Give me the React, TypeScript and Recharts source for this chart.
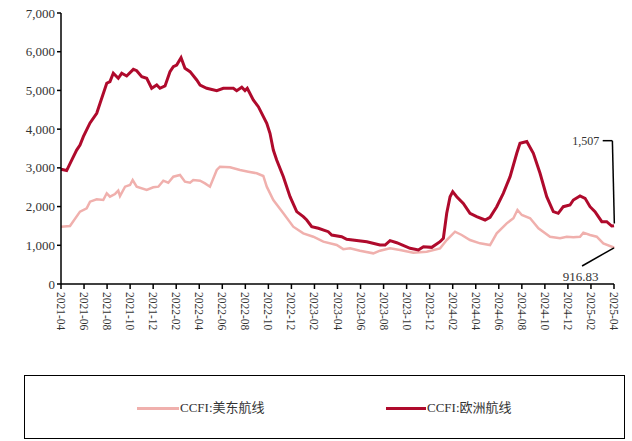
import React from 'react';
import { LineChart, Line, XAxis, YAxis, ReferenceLine, ReferenceDot } from 'recharts';

// x values are months since 2021-04
const usEastT = [0, 0.78, 1.65, 2.23, 2.52, 3.1, 3.67, 3.97, 4.25, 4.69, 4.97, 5.12, 5.56, 5.99, 6.22, 6.57, 7.44, 8.01, 8.45, 8.88, 9.31, 9.75, 10.33, 10.76, 11.2, 11.48, 12.07, 12.5, 12.93, 13.52, 13.8, 14.67, 15.54, 16.26, 16.99, 17.56, 17.86, 18.43, 19.3, 20.16, 21.03, 21.9, 22.77, 23.93, 24.5, 25.09, 25.95, 27.11, 27.69, 28.56, 29.43, 30.58, 31.74, 32.9, 33.48, 34.2, 34.78, 35.5, 36.37, 37.24, 37.82, 38.69, 39.27, 39.62, 40.0, 40.72, 41.44, 42.45, 43.32, 43.9, 44.47, 45.05, 45.34, 45.92, 46.5, 47.07, 47.94, 48];
const usEastV = [1480, 1498, 1869, 1955, 2126, 2187, 2170, 2343, 2255, 2325, 2411, 2273, 2514, 2557, 2686, 2514, 2428, 2497, 2514, 2669, 2617, 2772, 2816, 2643, 2617, 2686, 2669, 2600, 2514, 2945, 3030, 3014, 2945, 2902, 2860, 2790, 2514, 2170, 1826, 1480, 1309, 1222, 1093, 1007, 900, 921, 860, 792, 860, 921, 878, 809, 835, 921, 1136, 1351, 1266, 1136, 1050, 1007, 1309, 1567, 1697, 1912, 1782, 1697, 1439, 1222, 1180, 1222, 1205, 1222, 1326, 1266, 1222, 1050, 947, 916.83];

const europeT = [0, 0.49, 0.93, 1.36, 1.65, 1.94, 2.52, 3.1, 3.39, 3.97, 4.25, 4.54, 4.97, 5.27, 5.7, 6.28, 6.57, 7.01, 7.44, 7.87, 8.31, 8.59, 9.03, 9.46, 9.75, 10.04, 10.42, 10.76, 11.2, 11.78, 12.07, 12.65, 13.52, 14.09, 14.96, 15.25, 15.69, 15.97, 16.17, 16.69, 17.13, 17.86, 18.14, 18.43, 18.72, 19.3, 19.88, 20.46, 21.03, 21.33, 21.76, 22.34, 23.2, 23.5, 24.36, 24.8, 26.54, 27.69, 28.13, 28.56, 29.14, 30.3, 31.02, 31.46, 32.18, 32.9, 33.19, 33.48, 33.77, 34.0, 34.35, 34.92, 35.5, 36.08, 36.81, 37.24, 37.82, 38.39, 38.98, 39.56, 39.84, 40.43, 41.0, 41.58, 42.16, 42.73, 43.16, 43.6, 44.18, 44.47, 45.05, 45.49, 45.92, 46.35, 46.94, 47.37, 47.8, 48];
const europeV = [2963, 2930, 3200, 3460, 3590, 3805, 4160, 4410, 4670, 5185, 5227, 5443, 5314, 5443, 5373, 5545, 5510, 5355, 5314, 5056, 5140, 5056, 5115, 5485, 5614, 5657, 5846, 5572, 5485, 5270, 5140, 5056, 4994, 5056, 5056, 4994, 5081, 4994, 5056, 4753, 4580, 4150, 3893, 3460, 3203, 2772, 2255, 1869, 1739, 1653, 1480, 1439, 1351, 1266, 1222, 1154, 1093, 1007, 1007, 1119, 1067, 921, 878, 964, 947, 1093, 1180, 1826, 2255, 2385, 2255, 2083, 1826, 1739, 1653, 1722, 1997, 2343, 2772, 3376, 3635, 3679, 3376, 2860, 2255, 1869, 1826, 1997, 2041, 2170, 2273, 2213, 1997, 1869, 1610, 1610, 1498, 1507];

const xTicks = [0, 2, 4, 6, 8, 10, 12, 14, 16, 18, 20, 22, 24, 26, 28, 30, 32, 34, 36, 38, 40, 42, 44, 46, 48];
const xTickLabels = ['2021-04', '2021-06', '2021-08', '2021-10', '2021-12', '2022-02', '2022-04', '2022-06', '2022-08', '2022-10', '2022-12', '2023-02', '2023-04', '2023-06', '2023-08', '2023-10', '2023-12', '2024-02', '2024-04', '2024-06', '2024-08', '2024-10', '2024-12', '2025-02', '2025-04'];
const yTicks = [0, 1000, 2000, 3000, 4000, 5000, 6000, 7000];

const seriesNames = ['CCFI:美东航线', 'CCFI:欧洲航线'];
const lastUsEast = '916.83';
const lastEurope = '1,507';

const usEastData = usEastT.map((t, i) => ({ t, v: usEastV[i] }));
const europeData = europeT.map((t, i) => ({ t, v: europeV[i] }));

const PINK = '#F0B0AD';
const RED = '#AF0A2C';
const FONT = '"Liberation Serif", "Noto Sans CJK SC", serif';

const XTick = (props: any) => {
  const { x, y, payload } = props;
  const idx = xTicks.indexOf(payload.value);
  return (
    <text
      transform={`translate(${x - 4},${y + 1}) rotate(90)`}
      textAnchor="start"
      fontSize={11.5}
      fill="#333"
      fontFamily={FONT}
    >
      {xTickLabels[idx]}
    </text>
  );
};

export default function App() {
  return (
    <div style={{ position: 'absolute', left: 0, top: 0, width: 632, height: 441, background: '#fff', fontFamily: FONT }}>
      <LineChart width={632} height={441} margin={{ top: 13, right: 18, bottom: 107, left: 0 }}>
        <XAxis
          type="number"
          dataKey="t"
          domain={[0, 48]}
          ticks={xTicks}
          tick={<XTick />}
          axisLine={{ stroke: '#000', strokeWidth: 1.5 }}
          tickLine={{ stroke: '#000', strokeWidth: 1.5 }}
          tickSize={5}
          height={50}
          interval={0}
        />
        <YAxis
          type="number"
          domain={[0, 7000]}
          ticks={yTicks}
          width={61}
          tickFormatter={(v: number) => v.toLocaleString('en-US')}
          tick={{ fontSize: 13, fill: '#333', fontFamily: FONT }}
          axisLine={{ stroke: '#000', strokeWidth: 1.5 }}
          tickLine={{ stroke: '#000', strokeWidth: 1.5 }}
          tickSize={4}
          interval={0}
        />
        <Line data={usEastData} dataKey="v" type="linear" stroke={PINK} strokeWidth={2.5} dot={false} isAnimationActive={false} name={seriesNames[0]} />
        <Line data={europeData} dataKey="v" type="linear" stroke={RED} strokeWidth={3} dot={false} isAnimationActive={false} name={seriesNames[1]} />
        <ReferenceLine
          segment={[{ x: 47.02, y: 3702 }, { x: 47.86, y: 3702 }]}
          stroke="#000"
          strokeWidth={1.5}
          ifOverflow="visible"
        />
        <ReferenceLine
          segment={[{ x: 47.86, y: 3702 }, { x: 48.03, y: 1560 }]}
          stroke="#000"
          strokeWidth={1.5}
          ifOverflow="visible"
        />
        <ReferenceLine
          segment={[{ x: 45.23, y: 465 }, { x: 48.0, y: 935 }]}
          stroke="#000"
          strokeWidth={1.5}
          ifOverflow="visible"
        />
        <ReferenceDot
          x={46.9}
          y={3702}
          r={0}
          ifOverflow="visible"
          label={{ value: lastEurope, position: 'left', fontSize: 12, fill: '#333', fontFamily: FONT, offset: 2 }}
        />
        <ReferenceDot
          x={45.1}
          y={190}
          r={0}
          ifOverflow="visible"
          label={{ value: lastUsEast, position: 'center', fontSize: 13, fill: '#333', fontFamily: FONT }}
        />
      </LineChart>
      <div
        style={{
          position: 'absolute',
          left: 24,
          top: 375,
          width: 601,
          height: 64,
          border: '1.5px solid #000',
          boxSizing: 'border-box',
        }}
      >
        <div style={{ position: 'absolute', left: 112, top: 31, width: 42, height: 3, background: PINK }} />
        <div style={{ position: 'absolute', left: 155, top: 22, fontSize: 13, color: '#333', whiteSpace: 'nowrap', lineHeight: '20px' }}>
          {seriesNames[0]}
        </div>
        <div style={{ position: 'absolute', left: 361, top: 31, width: 40, height: 3, background: RED }} />
        <div style={{ position: 'absolute', left: 402, top: 22, fontSize: 13, color: '#333', whiteSpace: 'nowrap', lineHeight: '20px' }}>
          {seriesNames[1]}
        </div>
      </div>
    </div>
  );
}
